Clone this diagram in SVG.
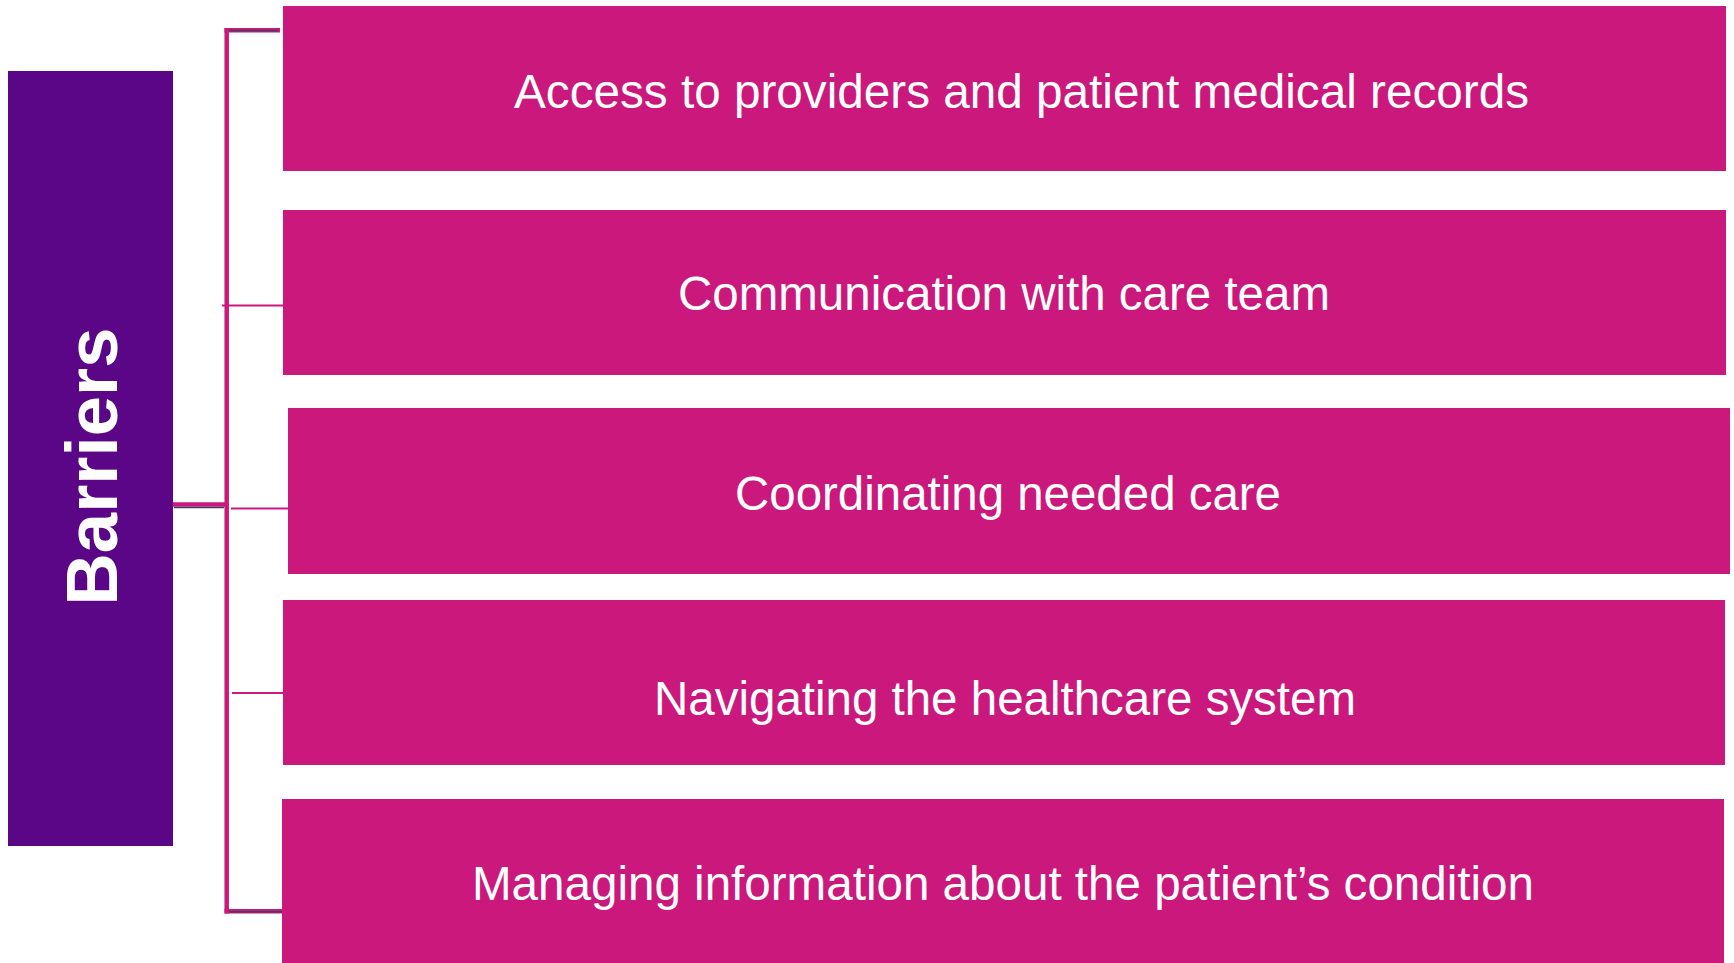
<svg xmlns="http://www.w3.org/2000/svg" width="1734" height="963" viewBox="0 0 1734 963">
  <style>
    .box { fill: #CB187C; }
    .lbl { font-family: "Liberation Sans", Arial, sans-serif; font-size: 48px; fill: #FFFFFF; text-anchor: middle; }
    .main { fill: #5B0687; }
    .title { font-family: "Liberation Sans", Arial, sans-serif; font-size: 72.5px; font-weight: bold; fill: #FFFFFF; text-anchor: middle; }
    .thick { stroke: #CB187C; stroke-width: 4.5; fill: none; }
    .thin { stroke: #CB187C; stroke-width: 2; fill: none; }
    .dark { stroke: #3E3F62; stroke-width: 1.5; fill: none; }
  </style>
  <rect width="1734" height="963" fill="#FFFFFF"/>

  <g id="connectors">
    <line class="thick" x1="226.7" y1="28" x2="226.7" y2="913.5"/>
    <line class="thick" x1="224.5" y1="30.2" x2="280" y2="30.2"/>
    <line class="dark" x1="229" y1="30.5" x2="278" y2="30.5"/>
    <line class="thick" x1="167" y1="504.5" x2="228" y2="504.5"/>
    <line class="dark" x1="174" y1="507.5" x2="224" y2="507.5"/>
    <line class="thin" x1="222" y1="305.5" x2="283" y2="305.5"/>
    <line class="thin" x1="231" y1="508.5" x2="288" y2="508.5"/>
    <line class="thin" x1="232" y1="693" x2="283" y2="693"/>
    <line class="thick" x1="224.5" y1="911.3" x2="283.5" y2="911.3"/>
    <line class="dark" x1="229" y1="911.7" x2="283" y2="911.7"/>
  </g>

  <g id="barriers">
    <rect class="main" x="8" y="71" width="165" height="775"/>
    <text class="title" transform="translate(117,466.5) rotate(-90)">Barriers</text>
  </g>

  <g id="access">
    <rect class="box" x="283" y="6" width="1443" height="165"/>
    <text class="lbl" x="1021.5" y="107.5" textLength="1015" lengthAdjust="spacingAndGlyphs">Access to providers and patient medical records</text>
  </g>

  <g id="communication">
    <rect class="box" x="283" y="210" width="1443" height="165"/>
    <text class="lbl" x="1004" y="310" textLength="652" lengthAdjust="spacingAndGlyphs">Communication with care team</text>
  </g>

  <g id="coordinating">
    <rect class="box" x="288" y="408" width="1442" height="166"/>
    <text class="lbl" x="1008" y="510" textLength="546" lengthAdjust="spacingAndGlyphs">Coordinating needed care</text>
  </g>

  <g id="navigating">
    <rect class="box" x="283" y="600" width="1442" height="165"/>
    <text class="lbl" x="1005" y="715" textLength="702" lengthAdjust="spacingAndGlyphs">Navigating the healthcare system</text>
  </g>

  <g id="managing">
    <rect class="box" x="282" y="799" width="1442" height="164"/>
    <text class="lbl" x="1003" y="900" textLength="1062" lengthAdjust="spacingAndGlyphs">Managing information about the patient’s condition</text>
  </g>
</svg>
